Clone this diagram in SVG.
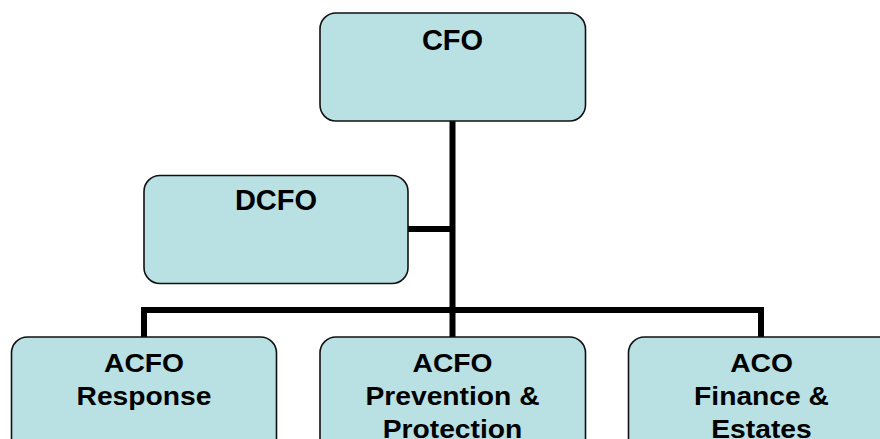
<svg xmlns="http://www.w3.org/2000/svg" width="880" height="439" viewBox="0 0 880 439">
<style>
.box{fill:#B9E0E3;stroke:#111;stroke-width:1.6}
.t{font-family:"Liberation Sans",Arial,sans-serif;font-weight:bold;fill:#000;text-anchor:middle}
.top{font-size:29px}
.bot{font-size:25px}
.conn{fill:none;stroke:#000;stroke-width:6;stroke-linejoin:miter;stroke-linecap:butt}
</style>
<rect width="880" height="439" fill="#fff"/>
<g id="connectors">
<path class="conn" d="M452.5 121 V337"/>
<path class="conn" d="M408 229 H452.5"/>
<path class="conn" d="M144 337 V310 H761 V337"/>
</g>
<g id="cfo">
<rect class="box" x="320" y="13" width="265.5" height="108" rx="16"/>
<text class="t top" x="452.5" y="50">CFO</text>
</g>
<g id="dcfo">
<rect class="box" x="144" y="175.5" width="264" height="108" rx="16"/>
<text class="t top" x="276" y="210">DCFO</text>
</g>
<g id="acfo-response">
<rect class="box" x="11.5" y="337" width="265" height="130" rx="16"/>
<g transform="translate(144,0) scale(1.13,1)">
<text class="t bot" x="0" y="372">ACFO</text>
<text class="t bot" x="0" y="405">Response</text>
</g>
</g>
<g id="acfo-prevention">
<rect class="box" x="320" y="337" width="265.5" height="130" rx="16"/>
<g transform="translate(452.5,0) scale(1.13,1)">
<text class="t bot" x="0" y="372">ACFO</text>
<text class="t bot" x="0" y="405">Prevention &amp;</text>
<text class="t bot" x="0" y="438">Protection</text>
</g>
</g>
<g id="aco-finance">
<rect class="box" x="628.5" y="337" width="266" height="130" rx="16"/>
<g transform="translate(761.5,0) scale(1.13,1)">
<text class="t bot" x="0" y="372">ACO</text>
<text class="t bot" x="0" y="405">Finance &amp;</text>
<text class="t bot" x="0" y="438">Estates</text>
</g>
</g>
</svg>
